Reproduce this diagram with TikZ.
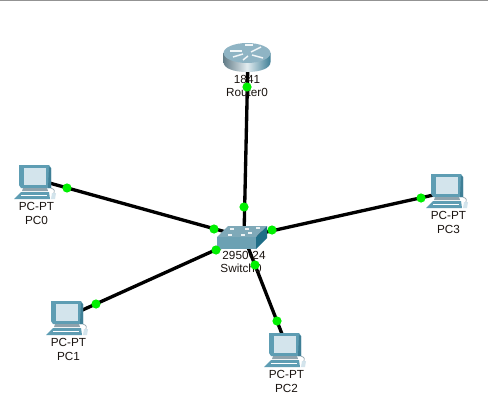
\documentclass[tikz,border=0pt]{standalone}
\usepackage{fontspec}
\setmainfont{Liberation Sans}
\definecolor{link}{HTML}{000000}
\definecolor{lite}{HTML}{00F000}
\definecolor{pcframe}{HTML}{5E9DB3}
\definecolor{pcdark}{HTML}{3F7F96}
\definecolor{pcscreen}{HTML}{D3E4EC}
\definecolor{pcbase}{HTML}{8FA3AD}
\definecolor{rtop}{HTML}{8FB4C4}
\definecolor{swtop}{HTML}{7FA9B8}
\definecolor{swfront}{HTML}{6CA1B3}
\definecolor{swside}{HTML}{1F6E87}
\definecolor{labelc}{HTML}{1A1410}
\tikzset{
  conn/.style={draw=link,line width=2.5pt},
  lamp/.style={circle,fill=lite,inner sep=0pt,minimum size=6.9pt},
  lbl/.style={font=\fontsize{8.8pt}{9pt}\selectfont,text=labelc,inner sep=0pt,anchor=center},
}
\newcommand{\pcicon}[4]{%
  \begin{scope}[shift={(#1,#2)}]
    \fill[pcframe] (-16,-15) -- (14,-15) -- (16,-12) -- (16,8) -- (-14,8) -- (-16,5) -- cycle;
    \fill[pcdark] (14,-13) -- (16,-12) -- (16,8) -- (13,8) -- cycle;
    \fill[pcscreen] (-11,-12) -- (11,-12) -- (11,5) -- (-11,5) -- cycle;
    \fill[pcbase] (-12,8) -- (12,8) -- (13,11) -- (-13,11) -- cycle;
    \fill[pcframe] (-14,12) -- (14,12) -- (15,19) -- (-21,19) -- cycle;
    \draw[white,line width=.4pt] (-14,15) -- (12,15);
    \fill[pcscreen] (17,13) -- (21,13) -- (20,19) -- (16,19) -- cycle;
    \draw[pcbase,line width=.5pt] (19,13) .. controls (20,9) and (18,9) .. (16,8);
    \node[lbl] (#3a) at (1.5,26) {PC-PT};
    \node[lbl] (#3b) at (1.5,40) {#4};
  \end{scope}}
\begin{document}
\begin{tikzpicture}[x=.75pt,y=-.75pt]
\useasboundingbox (0,0) rectangle (488,406);
\fill[white] (0,0) rectangle (488,406);
\fill[gray!85] (0,0) rectangle (488,1.5);
% device anchors
\node[inner sep=0pt] (sw) at (244,237) {};
\node[inner sep=0pt] (rt) at (248,57) {};
\node[inner sep=0pt] (pc0) at (35,179) {};
\node[inner sep=0pt] (pc1) at (67,317) {};
\node[inner sep=0pt] (pc2) at (287.5,348) {};
\node[inner sep=0pt] (pc3) at (447,192) {};
% links
\draw[conn] (rt.center) -- (sw.center);
\draw[conn] (pc0.center) -- (sw.center);
\draw[conn] (pc1.center) -- (sw.center);
\draw[conn] (pc2.center) -- (sw.center);
\draw[conn] (pc3.center) -- (sw.center);
% router
\begin{scope}[shift={(247,53)}]
  \path[left color=rtop!70!black,right color=pcdark,middle color=white!75!rtop]
    (-23.5,0) -- (-23.5,9) .. controls (-23.5,15.5) and (-13,19) .. (0,19)
    .. controls (13,19) and (23.5,15.5) .. (23.5,9) -- (23.5,0) -- cycle;
  \fill[rtop] (0,0) ellipse[x radius=17.6pt,y radius=7.5pt];
  \begin{scope}[white!88!rtop,line width=1.1pt]
    \draw (-17,-2) -- (-5,-2);
    \draw (-14,4) -- (-4,1);
    \draw (14,-6) -- (4,-1);
    \draw (5,2) -- (16,5);
    \draw (-2,-8) -- (6,-8);
    \draw (-4,7) -- (1,3);
  \end{scope}
\end{scope}
\node[lbl] at (247,79) {1841};
\node[lbl] at (247,92) {Router0};
% switch
\fill[swtop] (217,237) -- (228,226) -- (267,226) -- (256,237) -- cycle;
\fill[swfront] (217,237) -- (256,237) -- (256,249) -- (217,249) -- cycle;
\fill[swside] (256,237) -- (267,226) -- (267,238) -- (256,249) -- cycle;
\foreach \a/\b in {230/235,243/235,250/233,232/229,247/229,258/228}
  \fill[white!85!swtop] (\a-2,\b-.8) rectangle (\a+2,\b+.8);
\node[lbl] at (244,255) {2950-24};
\node[lbl] at (241,268) {Switch0};
% PCs
\pcicon{35}{180}{pczero}{PC0}
\pcicon{67}{316}{pcone}{PC1}
\pcicon{285}{348}{pctwo}{PC2}
\pcicon{447}{189}{pcthree}{PC3}
% link lights
\node[lamp] (l1) at (247,87) {};
\node[lamp] (l2) at (244,207) {};
\node[lamp] (l3) at (67,188) {};
\node[lamp] (l4) at (214,229) {};
\node[lamp] (l5) at (96,304) {};
\node[lamp] (l6) at (216,250) {};
\node[lamp] (l7) at (277,321) {};
\node[lamp] (l8) at (255,265) {};
\node[lamp] (l9) at (421,198) {};
\node[lamp] (l10) at (272,230) {};
\end{tikzpicture}
\end{document}
